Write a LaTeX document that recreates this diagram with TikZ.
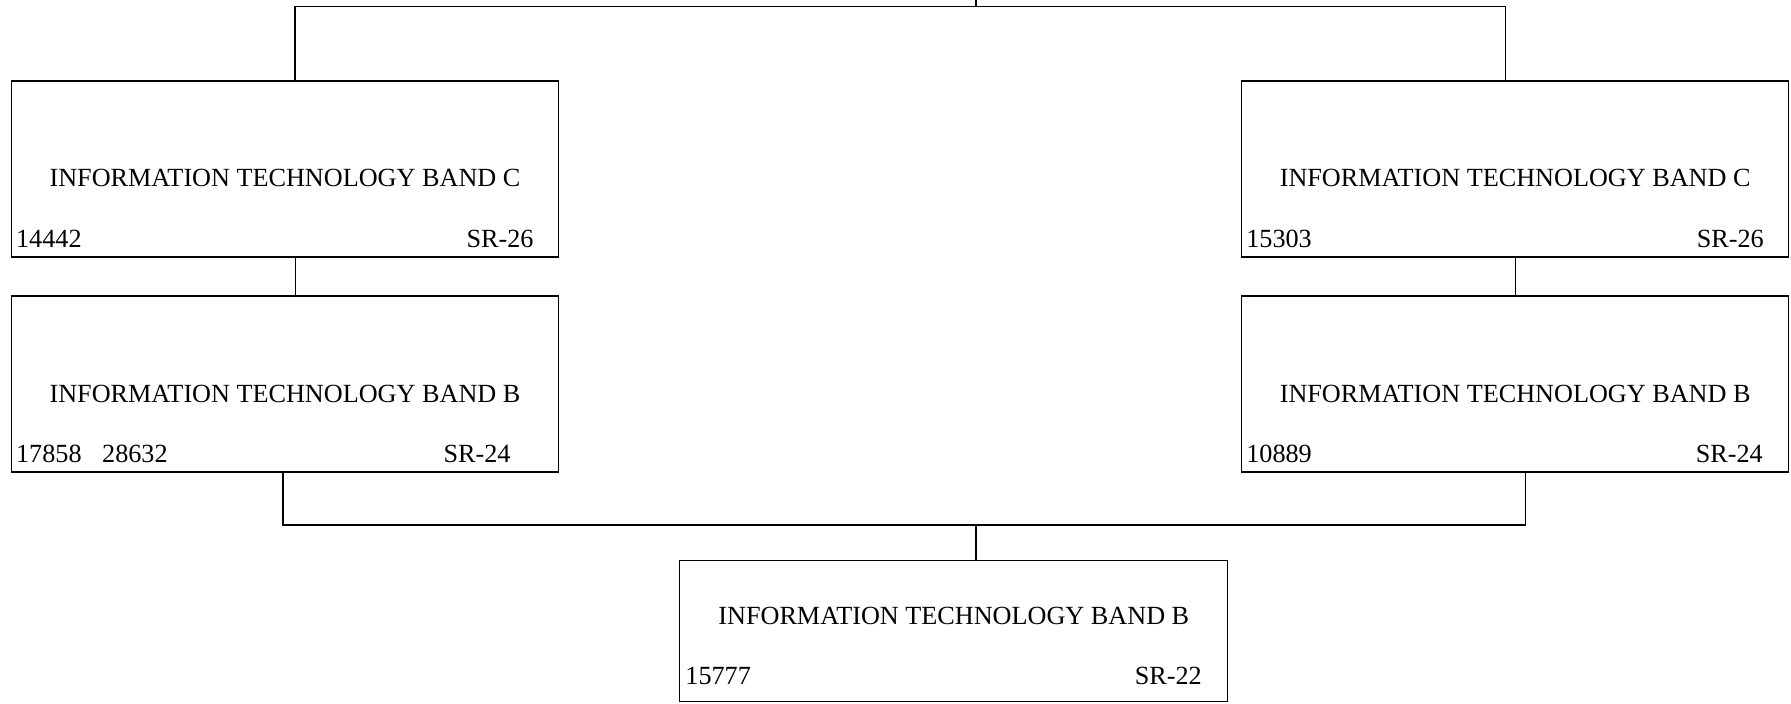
\documentclass[tikz,border=0pt]{standalone}
\usepackage{fontspec}
\setmainfont{Liberation Serif}
\usetikzlibrary{positioning}
\tikzset{
  post/.style={draw, line width=0.65pt, minimum width=273.5pt, minimum height=88pt, inner sep=0pt},
  title/.style={anchor=base, inner sep=0pt, font=\fontsize{13.1}{15}\selectfont},
  code/.style={inner sep=0pt, font=\fontsize{13.1}{15}\selectfont},
}
\begin{document}
\begin{tikzpicture}[x=0.5pt, y=-0.5pt, line width=0.65pt]
  \useasboundingbox (0,0) rectangle (1791,704);
  % upper row
  \node[post] (lc) at (285,169) {};
  \node[post] (rc) at (1515.2,169) {};
  \node[post, below=18.9pt of lc] (lb) {};
  \node[post, below=18.9pt of rc] (rb) {};
  \node[post, minimum width=274pt, minimum height=70.3pt] (bt) at (953.8,631) {};
  % texts
  \node[title] (lct) at ([yshift=-53.3pt]lc.north) {INFORMATION TECHNOLOGY BAND C};
  \node[code, anchor=base west] (lcn) at ([xshift=2.3pt,yshift=5pt]lc.south west) {14442};
  \node[code, anchor=base east] (lcs) at ([xshift=-12.5pt,yshift=5pt]lc.south east) {SR-26};
  \node[title] (rct) at ([yshift=-53.3pt]rc.north) {INFORMATION TECHNOLOGY BAND C};
  \node[code, anchor=base west] (rcn) at ([xshift=2.3pt,yshift=5pt]rc.south west) {15303};
  \node[code, anchor=base east] (rcs) at ([xshift=-12.5pt,yshift=5pt]rc.south east) {SR-26};
  \node[title] (lbt) at ([yshift=-53.3pt]lb.north) {INFORMATION TECHNOLOGY BAND B};
  \node[code, anchor=base west] (lbn) at ([xshift=2.3pt,yshift=5pt]lb.south west) {17858\hspace{10.3pt}28632};
  \node[code, anchor=base east] (lbs) at ([xshift=-24pt,yshift=5pt]lb.south east) {SR-24};
  \node[title] (rbt) at ([yshift=-53.3pt]rb.north) {INFORMATION TECHNOLOGY BAND B};
  \node[code, anchor=base west] (rbn) at ([xshift=2.3pt,yshift=5pt]rb.south west) {10889};
  \node[code, anchor=base east] (rbs) at ([xshift=-13pt,yshift=5pt]rb.south east) {SR-24};
  \node[title] (btt) at ([yshift=-32.2pt]bt.north) {INFORMATION TECHNOLOGY BAND B};
  \node[code, anchor=base west] (btn) at ([xshift=2.8pt,yshift=8.7pt]bt.south west) {15777};
  \node[code, anchor=base east] (bts) at ([xshift=-13pt,yshift=8.7pt]bt.south east) {SR-22};
  % connectors
  \coordinate (root) at (976,0);
  \coordinate (bar) at (976,6.7);
  \coordinate (join) at (976,525);
  \draw (root) -- (bar);
  \draw ([xshift=5pt]lc.north) |- (bar) -| ([xshift=-5pt]rc.north);
  \draw ([xshift=5.3pt]lc.south) -- ([xshift=5.3pt]lb.north);
  \draw ([xshift=0.3pt]rc.south) -- ([xshift=0.3pt]rb.north);
  \draw ([xshift=-1pt]lb.south) |- (join) -| ([xshift=5.3pt]rb.south);
  \draw (join) -- (join |- bt.north);
\end{tikzpicture}
\end{document}
